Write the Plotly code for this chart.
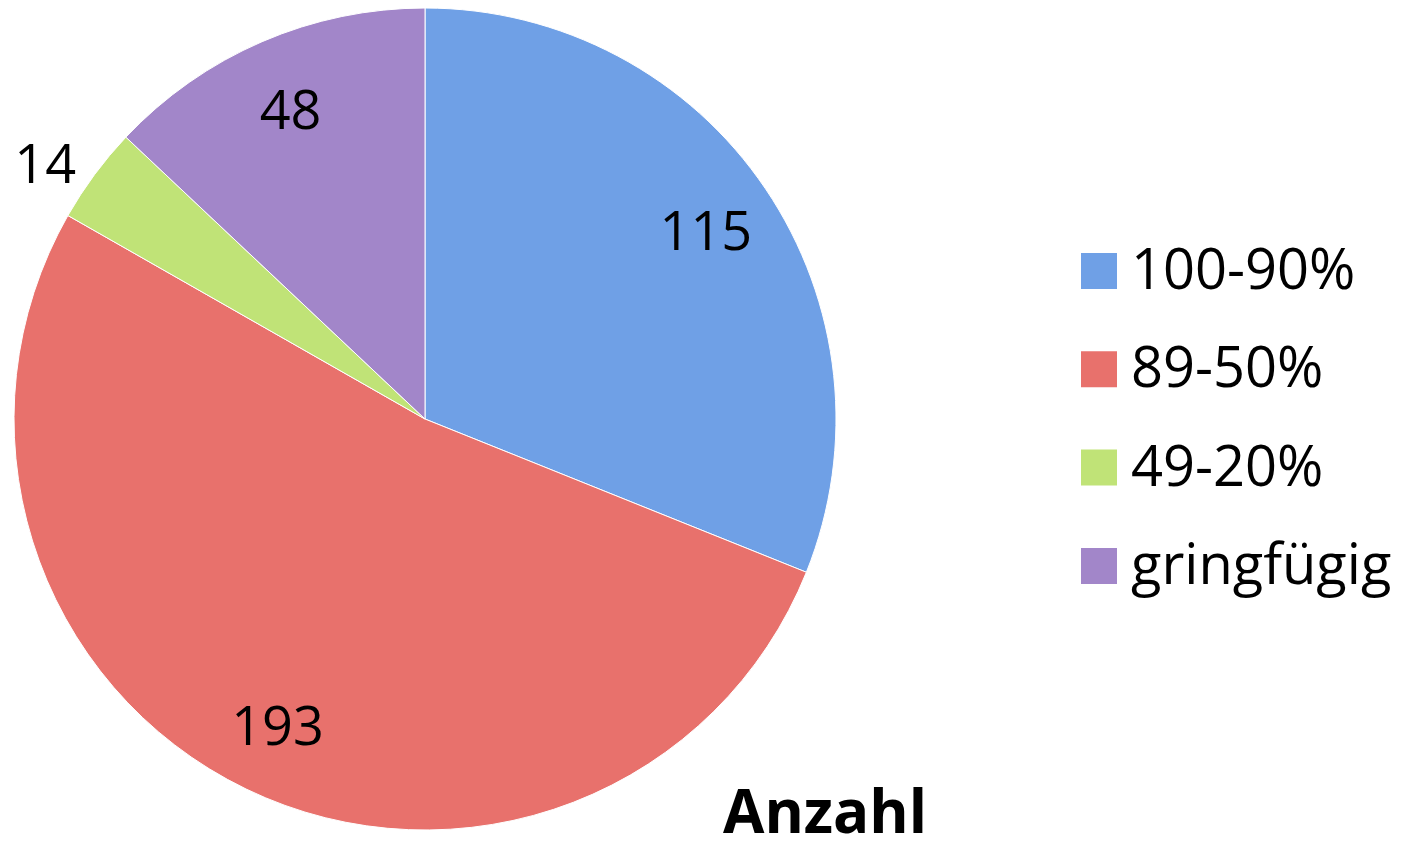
import plotly.graph_objects as go

labels = ["100-90%", "89-50%", "49-20%", "gringfügig"]
values = [115, 193, 14, 48]
colors = ["#6fa0e6", "#e8716c", "#c0e377", "#a286c9"]
text_positions = ["inside", "inside", "outside", "inside"]
title_text = "Anzahl"

W, H = 1405, 852
FONT = "Open Sans"
DOMAIN = dict(x=[13 / W, 837 / W], y=[22 / H, 844 / H])

fig = go.Figure()
# filled slices
fig.add_trace(go.Pie(
    labels=labels,
    values=values,
    sort=False,
    direction="clockwise",
    rotation=0,
    marker=dict(colors=colors, line=dict(color="white", width=1)),
    textinfo="none",
    showlegend=False,
    hoverinfo="label+value",
    domain=DOMAIN,
))
# value labels placed in the outer ring (as in the reference)
fig.add_trace(go.Pie(
    labels=labels,
    values=values,
    sort=False,
    direction="clockwise",
    rotation=0,
    hole=0.65,
    marker=dict(colors=["rgba(0,0,0,0)"] * len(values), line=dict(width=0)),
    texttemplate="%{value}",
    textposition=text_positions,
    insidetextorientation="horizontal",
    textfont=dict(family=FONT, size=54, color="black"),
    showlegend=False,
    hoverinfo="skip",
    domain=DOMAIN,
))

shapes = []
annotations = []
y0 = 271
step = 98.3
for i, (lab, col) in enumerate(zip(labels, colors)):
    yc = y0 + i * step
    shapes.append(dict(type="rect", xref="paper", yref="paper",
                       x0=1081 / W, x1=1117 / W,
                       y0=1 - (yc + 18) / H, y1=1 - (yc - 18) / H,
                       fillcolor=col, line=dict(width=0)))
    annotations.append(dict(text=lab, xref="paper", yref="paper",
                            x=1129 / W, y=1 - (yc - 4) / H, xanchor="left", yanchor="middle",
                            showarrow=False,
                            font=dict(family=FONT, size=56, color="black")))

annotations.append(dict(text="<b>" + title_text + "</b>", xref="paper", yref="paper",
                        x=825 / W, y=1 - 810 / H, xanchor="center", yanchor="middle",
                        showarrow=False,
                        font=dict(family=FONT, size=60, color="black")))

fig.update_layout(
    width=W, height=H,
    margin=dict(l=0, r=0, t=0, b=0),
    paper_bgcolor="white",
    plot_bgcolor="white",
    shapes=shapes,
    annotations=annotations,
)

fig.write_html("out.html", config={"displayModeBar": False},
               post_script="document.body.style.margin='0px';")
